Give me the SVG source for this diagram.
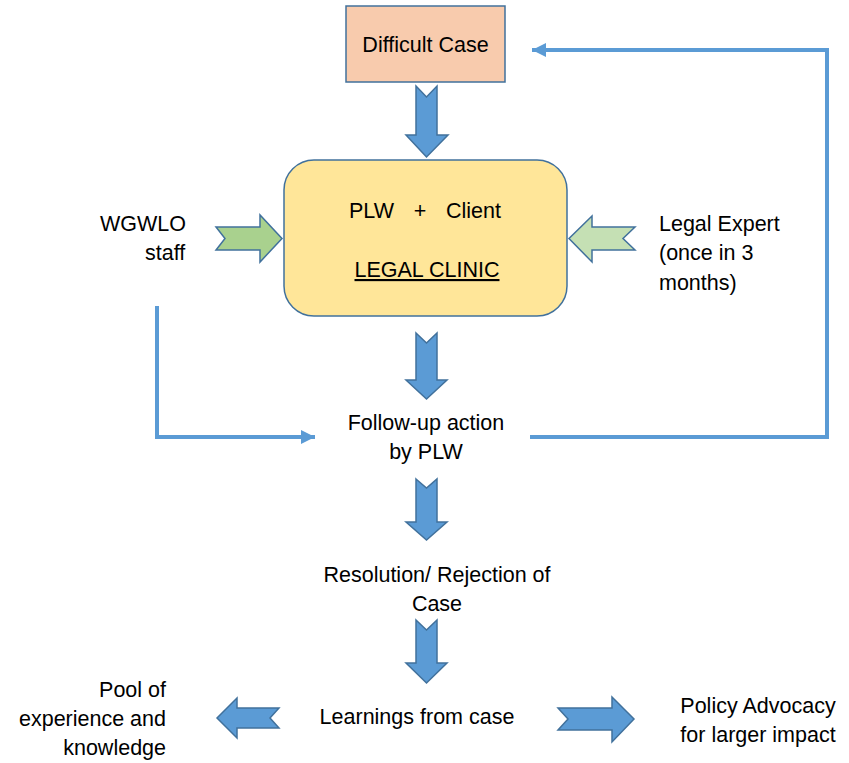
<svg xmlns="http://www.w3.org/2000/svg" width="849" height="763" viewBox="0 0 849 763">
<style>
text{font-family:"Liberation Sans",Arial,sans-serif;font-size:21.5px;fill:#000}
.c{text-anchor:middle}
.r{text-anchor:end}
.blk{fill:#5B9BD5;stroke:#41719C;stroke-width:1.5;stroke-linejoin:miter}
.con{fill:none;stroke:#5B9BD5;stroke-width:4}
</style>
<defs>
<marker id="ah" viewBox="0 0 10 10" refX="10" refY="5" markerWidth="3.6" markerHeight="4" orient="auto" markerUnits="strokeWidth">
<path d="M0,0 L10,5 L0,10 z" fill="#5B9BD5"/>
</marker>
</defs>
<rect width="849" height="763" fill="#fff"/>

<g id="connectors">
<polyline class="con" points="157,306 157,437 315,437" marker-end="url(#ah)"/>
<polyline class="con" points="530,437 827,437 827,50 532,50" marker-end="url(#ah)"/>
</g>

<g id="difficult-case">
<rect x="346" y="6" width="159" height="76" fill="#F8CBAD" stroke="#41719C" stroke-width="1.5"/>
<text class="c" x="425.5" y="52">Difficult Case</text>
</g>

<g id="arrow-down-1"><polygon class="blk" points="416,86 426.5,97 437,86 437,135 448,135 426.5,157 406,135 416,135"/></g>

<g id="legal-clinic">
<rect x="284" y="160" width="283" height="156" rx="30" ry="30" fill="#FFE699" stroke="#41719C" stroke-width="1.5"/>
<text x="349" y="218">PLW</text>
<text class="c" x="420" y="218">+</text>
<text x="446" y="218">Client</text>
<text class="c" x="427" y="277" text-decoration="underline">LEGAL CLINIC</text>
</g>

<g id="wgwlo-staff">
<text x="100" y="231">WGWLO</text>
<text x="145" y="260">staff</text>
</g>
<g id="arrow-left-in"><polygon points="216,227 260,227 260,215 282,238.5 260,262 260,250 216,250 225,238.5" fill="#A9D18E" stroke="#41719C" stroke-width="1.5"/></g>

<g id="legal-expert">
<text x="659" y="231">Legal Expert</text>
<text x="659" y="260">(once in 3</text>
<text x="659" y="290">months)</text>
</g>
<g id="arrow-right-in"><polygon points="635,227 592,227 592,216 569,238.5 592,262 592,250 635,250 623,238.5" fill="#C5E0B4" stroke="#41719C" stroke-width="1.5"/></g>

<g id="arrow-down-2"><polygon class="blk" points="416,333 426.5,343 437,333 437,380 447,380 426.5,399 406,380 416,380"/></g>

<g id="follow-up">
<text class="c" x="426" y="430">Follow-up action</text>
<text class="c" x="426" y="459">by PLW</text>
</g>

<g id="arrow-down-3"><polygon class="blk" points="416,479 426.5,488 437,479 437,522 447,522 426.5,540 406,522 416,522"/></g>

<g id="resolution">
<text class="c" x="437" y="582">Resolution/ Rejection of</text>
<text class="c" x="437" y="611">Case</text>
</g>

<g id="arrow-down-4"><polygon class="blk" points="416,620 426.5,630 437,620 437,663 447,663 426.5,683 406,663 416,663"/></g>

<g id="learnings">
<text class="c" x="417" y="724">Learnings from case</text>
</g>

<g id="arrow-left-out"><polygon class="blk" points="279,708 237,708 237,698 217,718 237,738 237,728 279,728 270,718"/></g>
<g id="pool">
<text class="r" x="166" y="697">Pool of</text>
<text class="r" x="166" y="726">experience and</text>
<text class="r" x="166" y="755">knowledge</text>
</g>

<g id="arrow-right-out"><polygon class="blk" points="558,708 612,708 612,697 634,719 612,742 612,730 558,730 568,719"/></g>
<g id="policy">
<text class="c" x="758" y="713">Policy Advocacy</text>
<text class="c" x="758" y="742">for larger impact</text>
</g>
</svg>
